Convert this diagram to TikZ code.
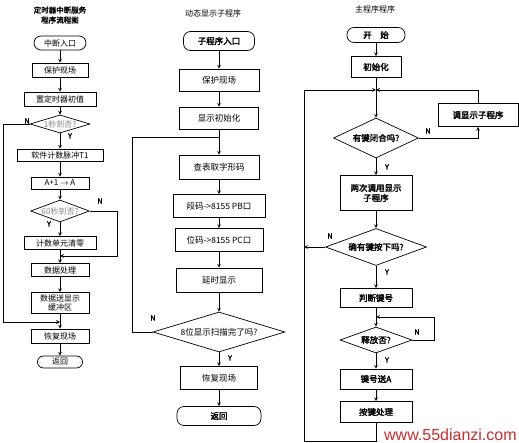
\documentclass[tikz,border=0pt]{standalone}
\usepackage{fontspec}
\setmainfont{Noto Sans CJK SC}[AutoFakeBold=2.5]
\newfontfamily\wmfont{Liberation Sans}
\usetikzlibrary{shapes.geometric}
\tikzset{
  >=stealth,
  every path/.style={line width=0.7pt},
  box/.style={draw, inner sep=1pt, align=center},
  term/.style={draw, rounded corners=7pt, inner sep=1pt},
  dec/.style={draw, diamond, aspect=3, inner sep=0pt},
  yn/.style={font=\bfseries\fontsize{7}{8}\selectfont},
  small/.style={font=\fontsize{8}{9.5}\selectfont},
  mid/.style={font=\fontsize{8.5}{10}\selectfont},
}
\begin{document}
\begin{tikzpicture}[x=1pt, y=-1pt]
\useasboundingbox (0,0) rectangle (519,443);

% timer interrupt
\node[small, font=\bfseries\fontsize{7.5}{10}\selectfont, align=center] (ltitle) at (60,15) {定时器中断服务\\程序流程图};
\node[term, small, minimum width=52, minimum height=14] (lstart) at (60,43) {中断入口};
\node[box, small, minimum width=56, minimum height=14] (lsave) at (60,70) {保护现场};
\node[box, small, minimum width=72, minimum height=14] (linit) at (60,99) {置定时器初值};
\node[dec, small, text=gray, minimum width=60, minimum height=18] (ld1) at (60,124) {1秒到否?};
\node[box, small, minimum width=86, minimum height=12] (lcnt) at (60,155) {软件计数脉冲T1};
\node[box, small, minimum width=58, minimum height=12] (linc) at (60,183) {A+1 $\rightarrow$ A};
\node[dec, small, text=gray, minimum width=58, minimum height=22] (ld2) at (60,211) {60秒到否?};
\node[box, small, minimum width=72, minimum height=13] (lclr) at (60,243) {计数单元清零};
\node[box, small, minimum width=58, minimum height=13] (lproc) at (60,270) {数据处理};
\node[box, small, minimum width=58, minimum height=21] (lbuf) at (60,303) {数据送显示\\缓冲区};
\node[box, small, minimum width=58, minimum height=14] (lrest) at (60,336) {恢复现场};
\node[term, small, minimum width=45, minimum height=12, rounded corners=6pt] (lret) at (60,362) {返回};
\coordinate (lj1) at (60,322);
\coordinate (lj2) at (60,256);
\draw[->] (lstart) -- (lsave);
\draw[->] (lsave) -- (linit);
\draw[->] (linit) -- (ld1);
\draw[->] (ld1) -- (lcnt);
\draw[->] (lcnt) -- (linc);
\draw[->] (linc) -- (ld2);
\draw[->] (ld2) -- (lclr);
\draw[->] (lclr) -- (lproc);
\draw[->] (lproc) -- (lbuf);
\draw[->] (lbuf) -- (lrest);
\draw[->] (lrest) -- (lret);
\draw[->] (ld1.west) -- (3,124) |- (lj1);
\draw[->] (ld2.east) -- (117,211) |- (lj2);
\node[yn] (ln1) at (27,121) {N};
\node[yn] (ly1) at (70,136) {Y};
\node[yn] (ln2) at (100,201) {N};
\node[yn] (ly2) at (49,224) {Y};

% display subroutine
\node[small] (mtitle) at (213,13) {动态显示子程序};
\node[term, mid, font=\bfseries\fontsize{8.5}{10}\selectfont, minimum width=71, minimum height=19] (mstart) at (219,41) {子程序入口};
\node[box, mid, minimum width=80, minimum height=22] (msave) at (219,80) {保护现场};
\node[box, mid, minimum width=79, minimum height=22] (minit) at (219,118) {显示初始化};
\node[box, mid, minimum width=80, minimum height=24] (mlook) at (219,167) {查表取字形码};
\node[box, mid, minimum width=92, minimum height=23] (mseg) at (219,206) {段码->8155 PB口};
\node[box, mid, minimum width=88, minimum height=23] (mbit) at (219,240) {位码->8155 PC口};
\node[box, mid, minimum width=86, minimum height=24] (mdel) at (219,280) {延时显示};
\node[dec, mid, aspect=3.3, minimum width=132, minimum height=40] (mdec) at (219,332) {8位显示扫描完了吗?};
\node[box, mid, minimum width=77, minimum height=23] (mrest) at (219,378) {恢复现场};
\node[term, mid, font=\bfseries\fontsize{8.5}{10}\selectfont, minimum width=84, minimum height=19] (mret) at (219,416) {返回};
\coordinate (mj) at (219,137);
\draw[->] (mstart) -- (msave);
\draw[->] (msave) -- (minit);
\draw[->] (minit) -- (mlook);
\draw[->] (mlook) -- (mseg);
\draw[->] (mseg) -- (mbit);
\draw[->] (mbit) -- (mdel);
\draw[->] (mdel) -- (mdec);
\draw[->] (mdec) -- (mrest);
\draw[->] (mrest) -- (mret);
\draw (mdec.west) -- (132,332) |- (mj);
\node[yn] (mn) at (153,318) {N};
\node[yn] (my) at (230,358) {Y};

% main program
\tikzset{rb/.style={box, mid, font=\bfseries\fontsize{8.5}{10}\selectfont}}
\node[small] (rtitle) at (375,9) {主程序程序};
\node[term, rb, minimum width=58, minimum height=15] (rstart) at (376,35) {开\quad 始};
\node[rb, minimum width=50, minimum height=21] (rinit) at (376,67) {初始化};
\node[rb, minimum width=80, minimum height=23] (rdisp) at (478,115) {调显示子程序};
\node[dec, rb, minimum width=85, minimum height=40] (rd1) at (376,138) {有键闭合吗?};
\node[rb, minimum width=72, minimum height=35] (rcall) at (376,193) {两次调用显示\\子程序};
\node[dec, rb, minimum width=101, minimum height=37] (rd2) at (376,247) {确有键按下吗?};
\node[rb, minimum width=72, minimum height=19] (rjudge) at (376,298) {判断键号};
\node[dec, rb, minimum width=72, minimum height=26] (rd3) at (376,340) {释放否?};
\node[rb, minimum width=72, minimum height=20] (rsend) at (376,379) {键号送A};
\node[rb, minimum width=72, minimum height=21] (rproc) at (376,412) {按键处理};
\coordinate (rj) at (376,90);
\coordinate (rl) at (304,90);
\coordinate (rbot) at (376,441);
\coordinate (rl2) at (304,247);
\coordinate (rj3) at (376,317);
\draw[->] (rstart) -- (rinit);
\draw[->] (rinit) -- (rd1);
\draw[->] (rd1.east) -| (rdisp.south);
\draw[->] (rdisp.north) |- (rj);
\draw[->] (rd1) -- (rcall);
\draw[->] (rcall) -- (rd2);
\draw[->] (rd2.west) -- (rl2);
\draw[->] (rd2) -- (rjudge);
\draw[->] (rjudge) -- (rd3);
\draw[->] (rd3.east) -- (434,340) |- (rj3);
\draw[->] (rd3) -- (rsend);
\draw[->] (rsend) -- (rproc);
\draw[->] (rproc) -- (rbot) -| (rl) -- (rj);
\node[yn] (rn1) at (428,131) {N};
\node[yn] (ry1) at (387,167) {Y};
\node[yn] (rn2) at (330,236) {N};
\node[yn] (ry2) at (387,272) {Y};
\node[yn] (rn3) at (417,332) {N};
\node[yn] (ry3) at (387,360) {Y};

\node[fill=white, text={rgb,255:red,205;green,45;blue,45}, font=\wmfont\fontsize{16}{16}\selectfont, inner sep=2pt, anchor=south east] (wm) at (519,443) {www.55dianzi.com};
\end{tikzpicture}
\end{document}
